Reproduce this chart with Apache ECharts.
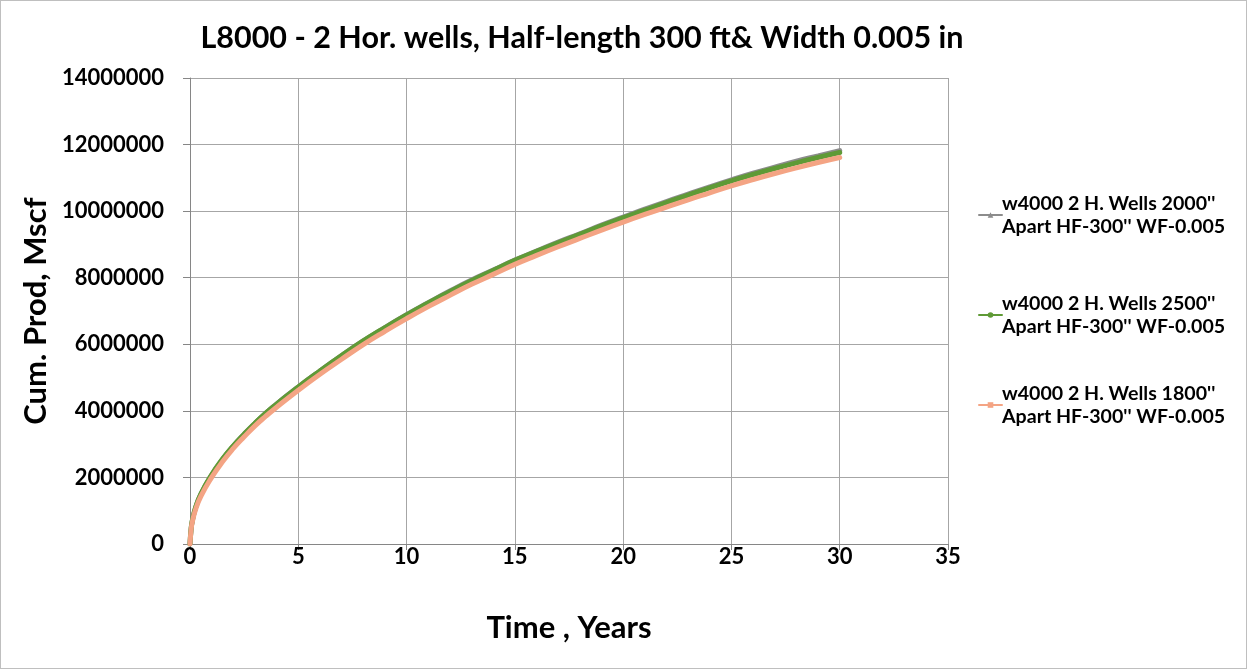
<!DOCTYPE html>
<html>
<head>
<meta charset="utf-8">
<script src="https://cdn.jsdelivr.net/npm/echarts@6/dist/echarts.min.js"></script>
<style>
html,body{margin:0;padding:0;background:#fff;}
#frame{width:1247px;height:669px;box-sizing:border-box;border:1px solid #bfbfbf;position:relative;}
#chart{position:absolute;left:0;top:0;width:1245px;height:667px;}
</style>
</head>
<body>
<div id="frame"><div id="chart"></div></div>
<script>
// Time (years)
const years = [0, 0.05, 0.1, 0.25, 0.5, 1, 1.5, 2, 2.5, 3, 3.5, 4, 5, 6, 7, 8, 9, 10, 11, 12, 13, 14, 15, 16, 17, 18, 19, 20, 21, 22, 23, 24, 25, 26, 27, 28, 29, 30];
// Cumulative production, Mscf
const gas2000 = [0, 440000, 670000, 1070000, 1490000, 2070000, 2540000, 2940000, 3300000, 3630000, 3930000, 4210000, 4720000, 5200000, 5660000, 6100000, 6500000, 6890000, 7250000, 7600000, 7930000, 8230000, 8530000, 8800000, 9070000, 9320000, 9580000, 9820000, 10060000, 10290000, 10510000, 10730000, 10940000, 11140000, 11320000, 11500000, 11660000, 11820000];
const gas2500 = [0, 450000, 680000, 1080000, 1500000, 2080000, 2550000, 2950000, 3300000, 3630000, 3930000, 4200000, 4720000, 5200000, 5660000, 6100000, 6500000, 6880000, 7240000, 7580000, 7910000, 8220000, 8520000, 8790000, 9050000, 9300000, 9560000, 9800000, 10030000, 10260000, 10480000, 10700000, 10910000, 11100000, 11280000, 11450000, 11610000, 11760000];
const gas1800 = [0, 420000, 640000, 1020000, 1430000, 2000000, 2470000, 2870000, 3220000, 3550000, 3840000, 4110000, 4620000, 5100000, 5550000, 5990000, 6390000, 6770000, 7130000, 7470000, 7800000, 8100000, 8400000, 8670000, 8930000, 9180000, 9430000, 9670000, 9900000, 10120000, 10340000, 10550000, 10760000, 10950000, 11130000, 11300000, 11460000, 11610000];
const seriesNames = ["w4000 2 H. Wells 2000''\nApart HF-300'' WF-0.005", "w4000 2 H. Wells 2500''\nApart HF-300'' WF-0.005", "w4000 2 H. Wells 1800''\nApart HF-300'' WF-0.005"];
const xTicks = [0, 5, 10, 15, 20, 25, 30, 35];
const yTicks = [0, 2000000, 4000000, 6000000, 8000000, 10000000, 12000000, 14000000];

const FONT = 'Lato, "Open Sans", sans-serif';
const pair = (ys) => years.map((t, i) => [t, ys[i]]);
const colors = ['#8c8c8c', '#5f9a36', '#f4a484'];
const symbols = ['triangle', 'circle', 'rect'];
const legendTops = [186, 286, 376];

const chart = echarts.init(document.getElementById('chart'), null, {renderer: 'canvas'});
const mkSeries = (i, ys) => ({
  name: seriesNames[i], type: 'line', data: pair(ys), smooth: true,
  showSymbol: false, symbol: symbols[i], symbolSize: 5,
  lineStyle: {color: colors[i], width: 5, cap: 'round'},
  itemStyle: {color: colors[i]},
  emphasis: {disabled: true}, animation: false, z: 2 + i
});
chart.setOption({
  animation: false,
  title: {
    text: 'L8000 - 2 Hor. wells, Half-length 300 ft& Width 0.005 in',
    left: 576, top: 17, textAlign: 'center',
    textStyle: {fontFamily: FONT, fontWeight: 'bold', fontSize: 30.5, color: '#000'}
  },
  grid: {left: 189, right: 298, top: 77, bottom: 124, containLabel: false},
  legend: [0, 1, 2].map(i => ({
    data: [{name: seriesNames[i]}],
    left: 972, top: legendTops[i], orient: 'vertical',
    itemWidth: 23, itemHeight: 7, itemGap: 0,
    selectedMode: false,
    textStyle: {fontFamily: FONT, fontWeight: 'bold', fontSize: 19.6, color: '#000', lineHeight: 23, padding: [0,0,0,-5]}
  })),
  xAxis: {
    type: 'value', min: 0, max: 35, interval: 5,
    name: 'Time , Years', nameLocation: 'middle', nameGap: 68,
    nameTextStyle: {fontFamily: FONT, fontWeight: 'bold', fontSize: 31, color: '#000'},
    axisLine: {show: true, lineStyle: {color: '#868686', width: 1}},
    axisTick: {show: true, inside: false, length: 6, lineStyle: {color: '#868686'}},
    axisLabel: {fontFamily: FONT, fontWeight: 'bold', fontSize: 22, color: '#000', margin: 2,
      formatter: v => xTicks.includes(v) ? String(v) : ''},
    splitLine: {show: true, lineStyle: {color: '#a6a6a6', width: 1}}
  },
  yAxis: {
    type: 'value', min: 0, max: 14000000, interval: 2000000,
    name: 'Cum. Prod, Mscf', nameLocation: 'middle', nameGap: 134, nameRotate: 90,
    nameTextStyle: {fontFamily: FONT, fontWeight: 'bold', fontSize: 31, color: '#000'},
    axisLine: {show: true, lineStyle: {color: '#868686', width: 1}},
    axisTick: {show: true, inside: false, length: 7, lineStyle: {color: '#868686'}},
    axisLabel: {fontFamily: FONT, fontWeight: 'bold', fontSize: 22, color: '#000', margin: 26,
      formatter: v => yTicks.includes(v) ? String(v) : ''},
    splitLine: {show: true, lineStyle: {color: '#a6a6a6', width: 1}}
  },
  series: [mkSeries(0, gas2000), mkSeries(1, gas2500), mkSeries(2, gas1800)]
});
</script>
</body>
</html>
